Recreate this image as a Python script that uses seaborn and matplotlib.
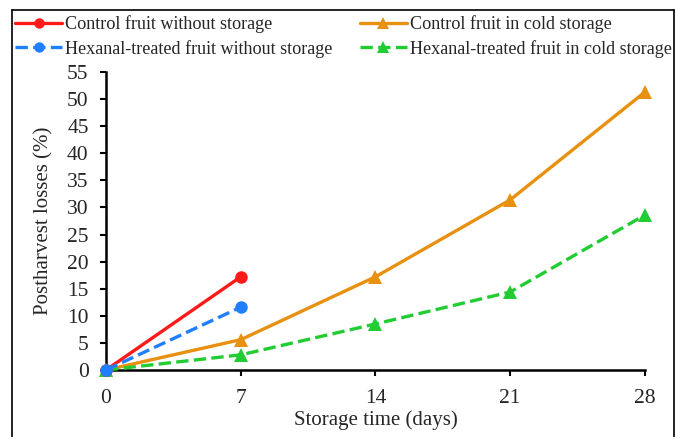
import seaborn as sns
import matplotlib.pyplot as plt
import pandas as pd
from matplotlib.lines import Line2D

# storage days and losses (%)
days_short = [0, 7]
days_cold = [0, 7, 14, 21, 28]
control_no_storage = [0, 17.2]
hexanal_no_storage = [0, 11.6]
control_cold = [0, 5.6, 17.2, 31.4, 51.3]
hexanal_cold = [0, 2.8, 8.5, 14.4, 28.6]

labels = ["Control fruit without storage",
          "Hexanal-treated fruit without storage",
          "Control fruit in cold storage",
          "Hexanal-treated fruit in cold storage"]

sns.set_style("ticks")
plt.rcParams['font.family'] = ['Liberation Serif', 'DejaVu Serif']

fig = plt.figure(figsize=(6.77, 4.37), dpi=100)
ax = fig.add_axes([0.1566, 0.1533, 0.796, 0.682])

series = [
    (days_short, control_no_storage, "#ff1a1a", "-", "o", 9),
    (days_short, hexanal_no_storage, "#1f7fff", "--", "o", 9),
    (days_cold, control_cold, "#e8900f", "-", "^", 10),
    (days_cold, hexanal_cold, "#22cc33", "--", "^", 10),
]

handles = []
for (x, y, c, ls, m, ms), lab in zip(series, labels):
    df = pd.DataFrame({"day": x, "loss": y})
    sns.lineplot(data=df, x="day", y="loss", ax=ax, color=c, linestyle=ls,
                 linewidth=2.4, marker=m, markersize=ms, markeredgewidth=0,
                 clip_on=False, zorder=3)
    handles.append(Line2D([0], [0], color=c, linestyle=ls, linewidth=2.4,
                          marker=m, markersize=ms - 1.5, markeredgewidth=0,
                          label=lab))

# no-storage series sit on top at day 0
ax.lines[1].set_zorder(5)
ax.lines[0].set_zorder(4)

ax.set_xlim(0, 28)
ax.set_ylim(0, 55)
ax.set_xticks(days_cold)
ax.set_yticks(range(0, 56, 5))
ax.tick_params(axis='both', labelsize=15.5, width=1.5, length=4.5, color='black')
ax.tick_params(axis='x', pad=9)
ax.tick_params(axis='y', pad=8)
sns.despine(ax=ax)
for s in ['left', 'bottom']:
    ax.spines[s].set_linewidth(1.8)
    ax.spines[s].set_color('black')
ax.set_xlabel("Storage time (days)", fontsize=15, labelpad=2)
ax.set_ylabel("Postharvest losses (%)", fontsize=15, labelpad=10)

fig.legend(handles=handles, ncol=2, loc='upper left', bbox_to_anchor=(0.022, 0.965),
           frameon=False, fontsize=13.1, handlelength=2.6, handletextpad=0.15,
           columnspacing=1.5, labelspacing=0.36, borderaxespad=0, borderpad=0)

# outer frame of the figure
for xs, ys in [([12/677, 12/677], [0, 427/437]),
               ([12/677, 674/677], [427/437, 427/437]),
               ([674/677, 674/677], [427/437, 0])]:
    fig.add_artist(Line2D(xs, ys, color='black', linewidth=1.2))

fig.savefig("out.png", dpi=100)
